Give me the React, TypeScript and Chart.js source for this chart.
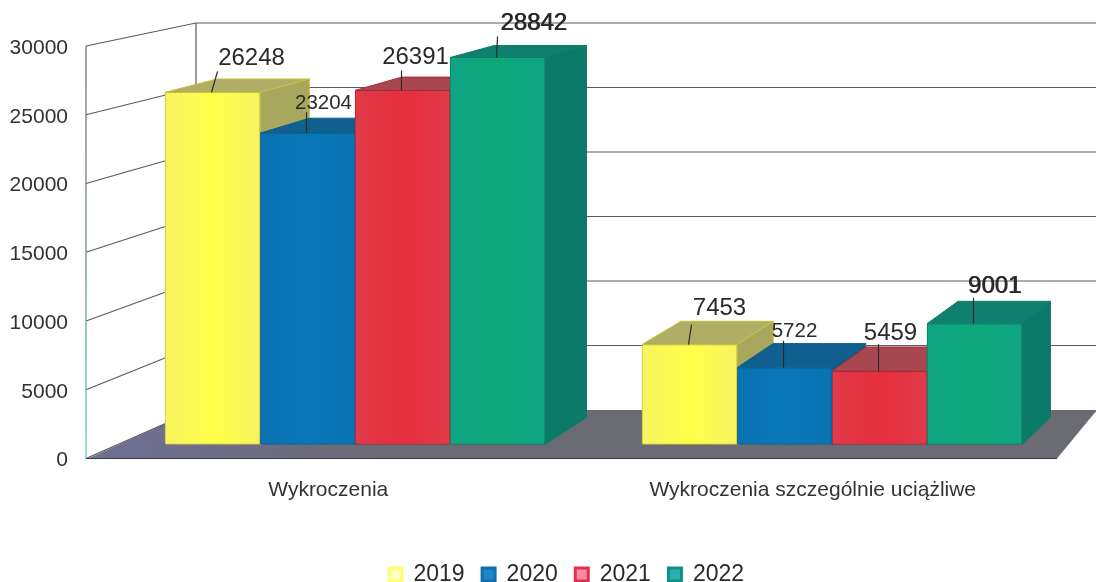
import React, { useEffect, useRef } from "react";
import { Chart, registerables } from "chart.js";

Chart.register(...registerables);

const categories = ["Wykroczenia", "Wykroczenia szczególnie uciążliwe"];
const years = ["2019", "2020", "2021", "2022"];
const values2019 = [26248, 7453];
const values2020 = [23204, 5722];
const values2021 = [26391, 5459];
const values2022 = [28842, 9001];
const seriesValues = [values2019, values2020, values2021, values2022];
const yTicks = [0, 5000, 10000, 15000, 20000, 25000, 30000];

const frontColors = ["#FFFF4A", "#0878BA", "#E62E3E", "#0DA878"];
const edgeColors = ["#F8F460", "#0A72B0", "#E03A48", "#10A484"];
const borderColors = ["#C9C23A", "#0B5F90", "#A82A3A", "#0B7F68"];
const topColors = ["#AFAD66", "#115F8E", "#A8474F", "#0F7F70"];
const sideColors = ["#A8A75E", "#0E5A88", "#A04048", "#0B7A66"];
const legendFill = ["#FFFFC0", "#1F86CC", "#F78AA0", "#28B0B0"];
const legendStroke = ["#FFFF70", "#1070B0", "#E03050", "#109088"];

// label placement relative to the top centre of each bar: [dx, dy] per group
const labelOffsets = [
  [[39, -34], [30, -36]],
  [[16, -30], [10, -36]],
  [[13, -33], [11, -38]],
  [[36, -34], [20, -37]],
];
const leaderLengths = [
  [21, 20],
  [21, 27],
  [20, 27],
  [21, 26],
];
const leaderSlants = [
  [6, 3],
  [0, 0],
  [0, 0],
  [1, 0],
];
const labelSizes = [24, 20.5, 24, 24];
const boldLabels = [false, false, false, true];

const depthX = (x: number) => x * 0.9725 + 56.5;
const depthY = (y: number) => 45 + (y - 57) * 0.961;

const wall3d = {
  id: "wall3d",
  afterLayout(chart: any) {
    chart.legend.left -= 4;
    chart.legend.right -= 4;
    chart.legend.top += 14;
    chart.legend.bottom += 14;
  },
  beforeDatasetsDraw(chart: any) {
    const { ctx } = chart;
    const yS = chart.scales.y;
    const backLeft = 196;
    const frontLeft = 86;
    const backY = (v: number) => 410 - (v * 387) / 30000;
    ctx.save();
    // floor
    ctx.beginPath();
    ctx.moveTo(frontLeft + 2, yS.getPixelForValue(0));
    ctx.lineTo(1057, yS.getPixelForValue(0));
    ctx.lineTo(1097, 410);
    ctx.lineTo(backLeft, 410);
    ctx.closePath();
    const fl = ctx.createLinearGradient(88, 0, 400, 0);
    fl.addColorStop(0, "#6F6F96");
    fl.addColorStop(1, "#6B6B74");
    ctx.fillStyle = fl;
    ctx.fill();
    // wall
    ctx.strokeStyle = "#5A5A5A";
    ctx.lineWidth = 1.2;
    yTicks.forEach((v) => {
      ctx.beginPath();
      ctx.moveTo(frontLeft, yS.getPixelForValue(v));
      ctx.lineTo(backLeft, backY(v));
      if (v > 0) ctx.lineTo(1096, backY(v));
      ctx.stroke();
    });
    ctx.beginPath();
    ctx.moveTo(backLeft, backY(30000));
    ctx.lineTo(backLeft, backY(0));
    ctx.stroke();
    const lg = ctx.createLinearGradient(0, 46, 0, 458);
    lg.addColorStop(0, "#666666");
    lg.addColorStop(0.55, "#668888");
    lg.addColorStop(1, "#40D0C8");
    ctx.strokeStyle = lg;
    ctx.beginPath();
    ctx.moveTo(frontLeft, yS.getPixelForValue(30000));
    ctx.lineTo(frontLeft, yS.getPixelForValue(0));
    ctx.stroke();
    ctx.strokeStyle = "#3A3A40";
    ctx.beginPath();
    ctx.moveTo(frontLeft, yS.getPixelForValue(0));
    ctx.lineTo(1057, yS.getPixelForValue(0));
    ctx.stroke();

    // top and side faces, left to right
    ctx.lineJoin = "round";
    const groups = categories.length;
    for (let g = 0; g < groups; g++) {
      seriesValues.forEach((_, s) => {
        const el = chart.getDatasetMeta(s).data[g];
        const l = el.x - el.width / 2;
        const r = el.x + el.width / 2;
        const t = el.y;
        const b = el.base;
        ctx.lineWidth = 1;
        ctx.beginPath();
        ctx.moveTo(l, t);
        ctx.lineTo(depthX(l), depthY(t));
        ctx.lineTo(depthX(r), depthY(t));
        ctx.lineTo(r, t);
        ctx.closePath();
        ctx.fillStyle = topColors[s];
        ctx.strokeStyle = borderColors[s];
        ctx.fill();
        ctx.stroke();
        ctx.beginPath();
        ctx.moveTo(r, t);
        ctx.lineTo(depthX(r), depthY(t));
        ctx.lineTo(depthX(r), depthY(b));
        ctx.lineTo(r, b);
        ctx.closePath();
        ctx.fillStyle = sideColors[s];
        ctx.fill();
        ctx.stroke();
        // soft horizontal shading on the front face
        const gr = ctx.createLinearGradient(l, 0, r, 0);
        gr.addColorStop(0, edgeColors[s]);
        gr.addColorStop(0.5, frontColors[s]);
        gr.addColorStop(1, edgeColors[s]);
        el.options = { ...el.options, backgroundColor: gr };
      });
    }
    ctx.restore();
  },
  afterDatasetsDraw(chart: any) {
    const { ctx } = chart;
    ctx.save();
    ctx.textAlign = "center";
    ctx.textBaseline = "middle";
    seriesValues.forEach((vals, s) => {
      const meta = chart.getDatasetMeta(s);
      vals.forEach((v, g) => {
        const el = meta.data[g];
        ctx.strokeStyle = "#2A2A2A";
        ctx.lineWidth = 1.2;
        ctx.beginPath();
        ctx.moveTo(el.x - 1, el.y);
        ctx.lineTo(el.x - 1 + leaderSlants[s][g], el.y - leaderLengths[s][g]);
        ctx.stroke();
        const [dx, dy] = labelOffsets[s][g];
        ctx.fillStyle = "#2A2A2A";
        ctx.font = `${labelSizes[s]}px "Liberation Sans", Arial, sans-serif`;
        ctx.fillText(String(v), el.x + dx, el.y + dy);
        if (boldLabels[s]) ctx.fillText(String(v), el.x + dx + 0.8, el.y + dy);
      });
    });
    ctx.restore();
  },
};

export default function App() {
  const ref = useRef<HTMLCanvasElement | null>(null);
  useEffect(() => {
    document.body.style.margin = "0";
    const chart = new Chart(ref.current as HTMLCanvasElement, {
      type: "bar",
      data: {
        labels: categories,
        datasets: years.map((y, s) => ({
          label: y,
          xAxisID: "x2",
          yAxisID: "y2",
          data: seriesValues[s].map((v, g) => ({ x: g, y: v })),
          backgroundColor: () => frontColors[s],
          borderColor: borderColors[s],
          borderWidth: 1,
          borderSkipped: false,
          borderRadius: 2,
          barThickness: 95,
        })),
      } as any,
      options: {
        responsive: false,
        animation: false,
        layout: { padding: { top: 39, right: 41, bottom: 0, left: 0 } },
        scales: {
          x: {
            type: "category",
            position: "bottom",
            offset: true,
            grid: { display: false },
            border: { display: false },
            ticks: {
              maxRotation: 0,
              padding: 11,
              color: "#333333",
              font: { family: '"Liberation Sans", Arial, sans-serif', size: 21 },
            },
            afterFit(s: any) {
              s.height = 73;
            },
          },
          x2: { type: "linear", display: false, offset: false, min: -0.564, max: 1.4675, grid: { display: false } },
          y: {
            type: "linear",
            position: "left",
            min: 0,
            max: 30510,
            grid: { display: false },
            border: { display: false },
            ticks: {
              stepSize: 5000,
              padding: 10,
              labelOffset: 2,
              color: "#333333",
              font: { family: '"Liberation Sans", Arial, sans-serif', size: 21 },
              callback: (v: any) => String(v),
            },
            afterBuildTicks(s: any) {
              s.ticks = yTicks.map((value) => ({ value }));
            },
            afterFit(s: any) {
              s.width = 86;
            },
          },
          y2: { type: "linear", display: false, min: -1045, max: 30224, grid: { display: false } },
        },
        plugins: {
          tooltip: { enabled: false },
          legend: {
            position: "bottom",
            fullSize: false,
            labels: {
              boxWidth: 13,
              boxHeight: 13,
              padding: 17.5,
              color: "#2A2A2A",
              font: { family: '"Liberation Sans", Arial, sans-serif', size: 23 },
              generateLabels: () =>
                years.map((y, s) => ({
                  text: y,
                  fillStyle: legendFill[s],
                  strokeStyle: legendStroke[s],
                  lineWidth: 3,
                  datasetIndex: s,
                  fontColor: "#2A2A2A",
                })),
            },
          },
        },
      } as any,
      plugins: [wall3d as any],
    });
    return () => chart.destroy();
  }, []);
  return (
    <div style={{ width: 1096, height: 582, background: "#fff" }}>
      <canvas ref={ref} width={1096} height={582} style={{ display: "block" }} />
    </div>
  );
}
